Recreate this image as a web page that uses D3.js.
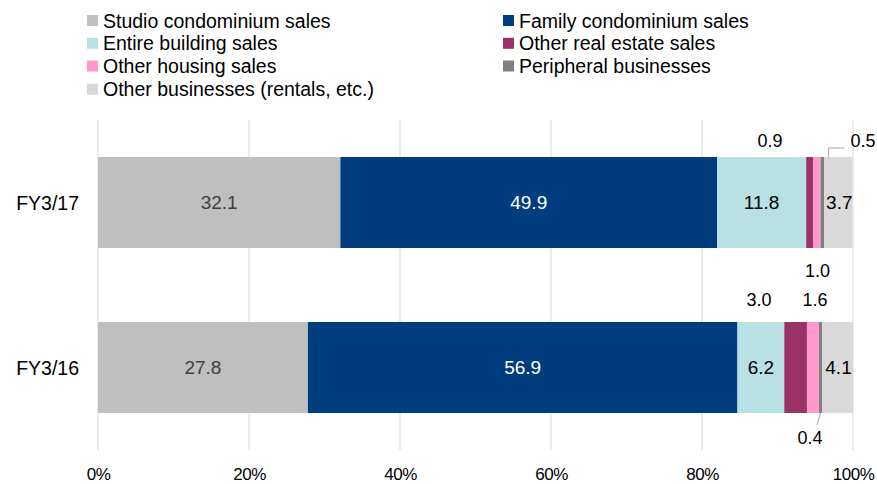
<!DOCTYPE html>
<html><head><meta charset="utf-8">
<script src="https://cdn.jsdelivr.net/npm/d3@7"></script>
<style>
body{margin:0;background:#fff;}
text{font-family:"Liberation Sans",Arial,sans-serif;}
</style></head><body>
<svg id="c" width="877" height="484"></svg>
<script>
const categories = ["FY3/17", "FY3/16"];
const seriesNames = ["Studio condominium sales","Family condominium sales","Entire building sales","Other real estate sales","Other housing sales","Peripheral businesses","Other businesses (rentals, etc.)"];
const fy17 = [32.1, 49.9, 11.8, 0.9, 1.0, 0.5, 3.7];
const fy16 = [27.8, 56.9, 6.2, 3.0, 1.6, 0.4, 4.1];
const tickValues = [0, 20, 40, 60, 80, 100];
const colors = ["#bfbfbf","#003d7f","#b9e0e3","#993366","#ff99cc","#808080","#d9d9d9"];
const labelColors = ["#404040","#ffffff","#000","#000","#000","#000","#000"];

const svg = d3.select("#c");
const x = d3.scaleLinear().domain([0,100]).range([98,853]);
const y = d3.scaleBand().domain(categories).range([120,450]).paddingInner(0.4485).paddingOuter(0.2242);
const bw = y.bandwidth();

// gridlines
svg.append("g").selectAll("line").data(tickValues).join("line")
  .attr("x1",d=>x(d)).attr("x2",d=>x(d)).attr("y1",120).attr("y2",450)
  .attr("stroke","#d9d9d9").attr("stroke-width",1);

const data = [fy17, fy16];
data.forEach((vals,i)=>{
  const cat = categories[i];
  let cum = 0;
  const segs = vals.map((v,j)=>{const s={j,v,x0:cum,x1:cum+v}; cum+=v; return s;});
  const g = svg.append("g");
  g.selectAll("rect").data(segs).join("rect")
    .attr("x",d=>x(d.x0)).attr("width",d=>x(d.x1)-x(d.x0))
    .attr("y",y(cat)).attr("height",bw)
    .attr("fill",d=>colors[d.j]);
  g.selectAll("text").data(segs.filter(d=>d.v>=3.5)).join("text")
    .attr("x",d=>x((d.x0+d.x1)/2)+(d.j===6?1:0)).attr("y",y(cat)+bw/2)
    .attr("dy","0.36em").attr("text-anchor","middle")
    .attr("font-size",19).attr("fill",d=>labelColors[d.j])
    .text(d=>d.v.toFixed(1));
});

// external labels
const ext = svg.append("g").attr("font-size",18).attr("fill","#000").attr("text-anchor","middle");
const b17 = y("FY3/17"), b16 = y("FY3/16");
function cumAt(vals,j){return d3.sum(vals.slice(0,j));}
// FY3/17 other real estate (above)
ext.append("text").attr("x",770).attr("y",b17-10).text(fy17[3].toFixed(1));
// FY3/17 other housing (below bar)
ext.append("text").attr("x",817.5).attr("y",b17+bw+29).text(fy17[4].toFixed(1));
// FY3/17 peripheral with leader
const px17 = x(cumAt(fy17,5)+fy17[5]/2)+6;
svg.append("path").attr("d",`M${px17},${b17} V${b17-9} H${px17+16}`).attr("fill","none").attr("stroke","#a6a6a6");
ext.append("text").attr("x",863).attr("y",b17-10).text(fy17[5].toFixed(1));
// FY3/16
ext.append("text").attr("x",759).attr("y",b16-16).text(fy16[3].toFixed(1));
ext.append("text").attr("x",815).attr("y",b16-16).text(fy16[4].toFixed(1));
const px16 = x(cumAt(fy16,5)+fy16[5]/2);
svg.append("line").attr("x1",px16).attr("y1",b16+bw).attr("x2",px16-3.5).attr("y2",b16+bw+12).attr("stroke","#a6a6a6");
ext.append("text").attr("x",810).attr("y",b16+bw+31).text(fy16[5].toFixed(1));

// category labels
svg.append("g").selectAll("text").data(categories).join("text")
  .attr("x",79).attr("y",d=>y(d)+bw/2).attr("dy","0.36em").attr("text-anchor","end")
  .attr("font-size",19.5).attr("fill","#000").text(d=>d);

// x axis
const ax = svg.append("g").attr("transform","translate(0,480)")
  .call(d3.axisBottom(x).tickValues(tickValues).tickFormat(d=>d+"%").tickSize(0));
ax.select(".domain").remove();
ax.selectAll("text").attr("font-size",17).attr("fill","#000").attr("dy",0).attr("y",0)
  .style("font-family","'Liberation Sans',Arial,sans-serif").attr("letter-spacing",-0.5);

// legend
const legPos = [[87,20.5],[503,20.5],[87,43.3],[503,43.3],[87,66],[503,66],[87,89.3]];
const leg = svg.append("g");
seriesNames.forEach((n,i)=>{
  const [lx,ly] = legPos[i];
  leg.append("rect").attr("x",lx).attr("y",ly-5.5).attr("width",11).attr("height",11).attr("fill",colors[i]);
  leg.append("text").attr("x",lx+16).attr("y",ly).attr("dy","0.36em").attr("font-size",19.5).attr("fill","#000").text(n);
});
</script></body></html>
